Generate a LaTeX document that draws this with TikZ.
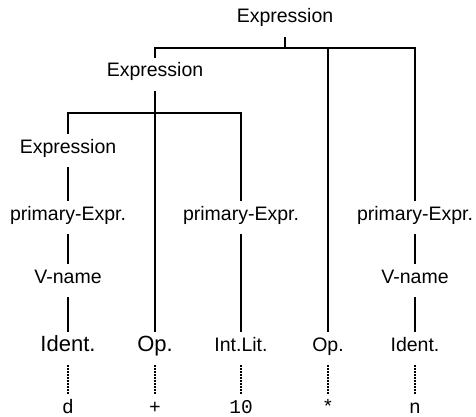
\documentclass[tikz,border=0pt]{standalone}
\usepackage{fontspec}
\setmainfont{Liberation Sans}
\setmonofont{Liberation Mono}
\begin{document}
\begin{tikzpicture}[x=1pt,y=-1pt,
  cat/.style={anchor=base,inner xsep=0pt,inner ysep=4pt,text height=15pt,text depth=10pt,font=\fontsize{19.5}{22}\selectfont},
  big/.style={font=\fontsize{22}{24}\selectfont},
  tok/.style={anchor=base,inner ysep=4pt,text height=15pt,text depth=0pt,font=\ttfamily\fontsize{19.5}{22}\selectfont},
  branch/.style={line width=2pt},
  lex/.style={line width=2.2pt,dash pattern=on 2pt off 1pt}]
\useasboundingbox (0,0) rectangle (476,417);
\node[cat] (e1) at (285,23) {Expression};
\node[cat] (e2) at (155,77) {Expression};
\node[cat] (e3) at (68,153) {Expression};
\node[cat] (p1) at (68,220) {primary-Expr.};
\node[cat] (p2) at (241,220) {primary-Expr.};
\node[cat] (p3) at (415,220) {primary-Expr.};
\node[cat] (v1) at (68,283) {V-name};
\node[cat] (v3) at (415,283) {V-name};
\node[cat,big] (w1) at (68,351) {Ident.};
\node[cat,big] (w2) at (155,351) {Op.};
\node[cat] (w3) at (241,351) {Int.Lit.};
\node[cat] (w4) at (328,351) {Op.};
\node[cat] (w5) at (415,351) {Ident.};
\foreach \x/\t [count=\n] in {68/d,155/+,241/10,328/*,415/n}
  \node[tok] (t\n) at (\x,413) {\t};
\draw[branch] (e1.south) -- ++(0,11) coordinate (j1);
\draw[branch] (e2.north) |- (j1) -| (p3.north);
\draw[branch] (w4.north) -- (w4.north |- j1);
\draw[branch] (e2.south) -- ++(0,22) coordinate (j2) -- (w2.north);
\draw[branch] (e3.north) |- (j2) -| (p2.north);
\draw[branch] (e3.south) -- (p1.north);
\draw[branch] (p1.south) -- (v1.north);
\draw[branch] (v1.south) -- (w1.north);
\draw[branch] (p2.south) -- (w3.north);
\draw[branch] (p3.south) -- (v3.north);
\draw[branch] (v3.south) -- (w5.north);
\foreach \n in {1,...,5} \draw[lex] (w\n.south) -- (t\n.north);
\end{tikzpicture}
\end{document}
